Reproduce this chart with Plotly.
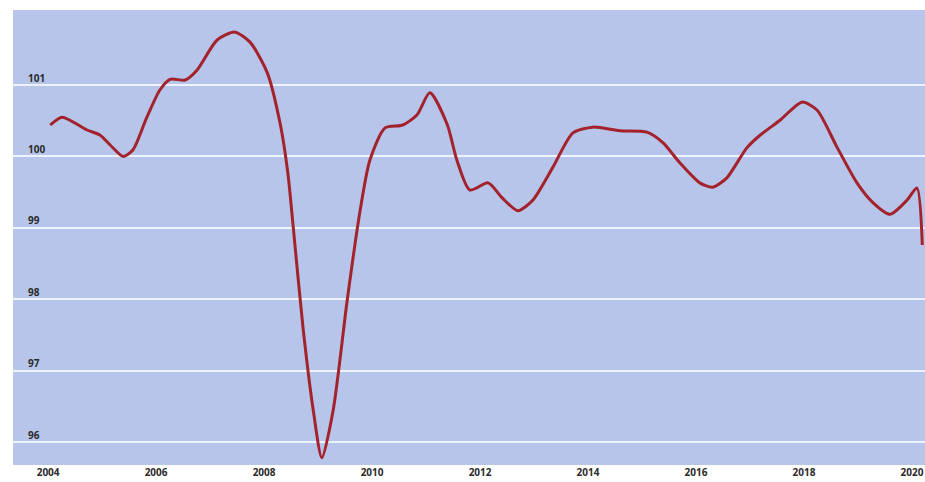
import plotly.graph_objects as go

years = [2004.04, 2004.26, 2004.72, 2004.96, 2005.15, 2005.39, 2005.57, 2005.83,
         2006.07, 2006.26, 2006.54, 2006.76, 2007.13, 2007.46, 2007.74, 2008.06,
         2008.30, 2008.44, 2008.54, 2008.72, 2008.91, 2009.07, 2009.28, 2009.54,
         2009.78, 2009.96, 2010.24, 2010.57, 2010.83, 2011.07, 2011.39, 2011.57,
         2011.81, 2012.15, 2012.41, 2012.70, 2012.98, 2013.35, 2013.72, 2014.09,
         2014.59, 2015.09, 2015.39, 2015.70, 2016.07, 2016.31, 2016.57, 2016.94,
         2017.19, 2017.56, 2017.96, 2018.24, 2018.61, 2018.98, 2019.28, 2019.59,
         2019.91, 2020.09, 2020.19]
values = [100.44, 100.55, 100.37, 100.30, 100.16, 100.00, 100.09, 100.55,
          100.93, 101.08, 101.07, 101.21, 101.63, 101.74, 101.60, 101.17,
          100.45, 99.77, 99.01, 97.61, 96.45, 95.78, 96.45, 97.99,
          99.25, 99.95, 100.40, 100.44, 100.58, 100.89, 100.45, 99.95,
          99.53, 99.63, 99.42, 99.24, 99.39, 99.85, 100.33, 100.41,
          100.36, 100.34, 100.19, 99.91, 99.63, 99.57, 99.70, 100.12,
          100.30, 100.51, 100.76, 100.65, 100.13, 99.63, 99.35, 99.19,
          99.39, 99.56, 98.76]
x_ticks = [2004, 2006, 2008, 2010, 2012, 2014, 2016, 2018, 2020]
y_ticks = [96, 97, 98, 99, 100, 101]

fig = go.Figure()
fig.add_trace(go.Scatter(
    x=years, y=values, mode="lines",
    line=dict(color="#a3222b", width=3, shape="spline", smoothing=0.7),
    hoverinfo="skip", showlegend=False))

fig.update_layout(
    width=925, height=482,
    margin=dict(l=13, r=0, t=10, b=17),
    paper_bgcolor="white",
    plot_bgcolor="#b7c5ea",
    font=dict(family="Open Sans, Arial", size=10, color="#2b2b2b"),
    xaxis=dict(
        range=[2003.35, 2020.24],
        tickmode="array", tickvals=x_ticks,
        ticktext=["<b>%d</b>" % v for v in x_ticks],
        showgrid=False, zeroline=False,
        ticks="", ticklen=0,
        tickfont=dict(size=10, color="#2b2b2b"),
    ),
    yaxis=dict(
        range=[95.68, 102.05],
        tickmode="array", tickvals=y_ticks,
        ticktext=["<b>%d</b>" % v for v in y_ticks],
        showgrid=True, gridcolor="#eef2fb", gridwidth=2,
        zeroline=False,
        ticklabelposition="inside top",
        ticklabelstandoff=12,
        tickfont=dict(size=10, color="#2b2b2b"),
    ),
)

fig.write_html("out.html", config={"displayModeBar": False, "staticPlot": True})

with open("out.html", "r", encoding="utf-8") as f:
    html = f.read()
html = html.replace("<head>", "<head><style>html,body{margin:0;padding:0;overflow:hidden;}</style>", 1)
with open("out.html", "w", encoding="utf-8") as f:
    f.write(html)
